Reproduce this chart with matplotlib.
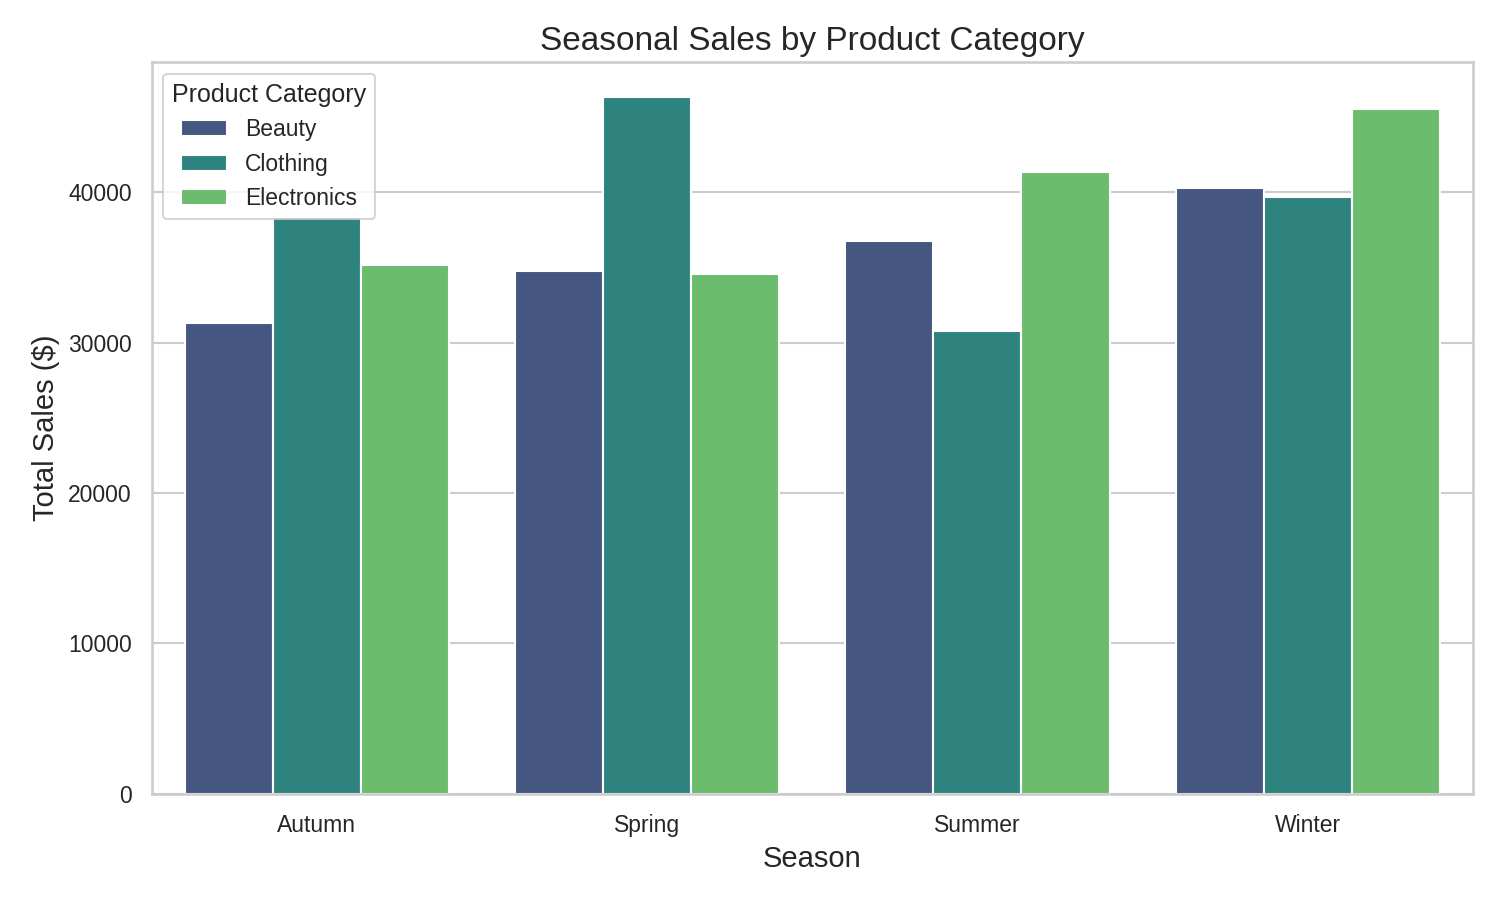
import pandas as pd
import seaborn as sns
import matplotlib
matplotlib.use("Agg")
import matplotlib.pyplot as plt

seasons = ["Autumn", "Spring", "Summer", "Winter"]
categories = ["Beauty", "Clothing", "Electronics"]
beauty = [31320, 34790, 36790, 40270]
clothing = [38350, 46340, 30780, 39670]
electronics = [35190, 34590, 41340, 45540]

rows = []
for cat, vals in zip(categories, [beauty, clothing, electronics]):
    for s, v in zip(seasons, vals):
        rows.append({"Season": s, "Product Category": cat, "Total Sales": v})
df = pd.DataFrame(rows)

sns.set_theme(style="whitegrid")
plt.rcParams["font.family"] = ["Liberation Sans", "DejaVu Sans"]
fig = plt.figure(figsize=(10, 6))
ax = sns.barplot(data=df, x="Season", y="Total Sales", hue="Product Category",
                 order=seasons, hue_order=categories, palette="viridis")
ax.set_title("Seasonal Sales by Product Category", fontsize=16)
ax.set_xlabel("Season", fontsize=14)
ax.set_ylabel("Total Sales ($)", fontsize=14)
ax.legend(title="Product Category", loc="upper left")
plt.subplots_adjust(left=0.101, right=0.982, top=0.931, bottom=0.118)
plt.savefig("out.png", dpi=150)
